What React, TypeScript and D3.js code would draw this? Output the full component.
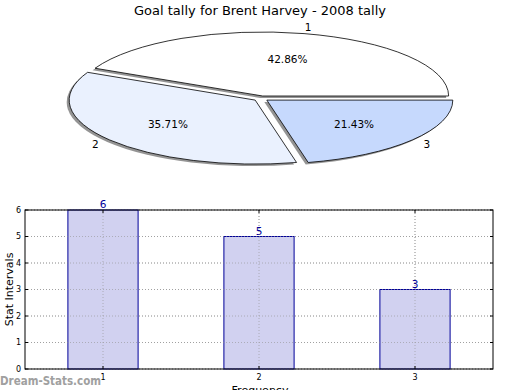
import React from "react";
import * as d3 from "d3";

const pieLabels = ["1", "2", "3"];
const pieValues = [6, 5, 3];
const pieColors = ["#ffffff", "#eaf1fe", "#c6d9fd"];

const barCategories = [1, 2, 3];
const barValues = [6, 5, 3];
const yTicks = [0, 1, 2, 3, 4, 5, 6];

const title = "Goal tally for Brent Harvey - 2008 tally";

export default function App() {
  const W = 520, H = 390;
  const font = "DejaVu Sans, sans-serif";

  // Pie geometry
  const cx = 261, cy = 98.5, rx = 186, ry = 64, explode = 0.04;
  const total = d3.sum(pieValues);
  const arcs = d3.pie<number>().sort(null).startAngle(0).endAngle(2 * Math.PI)(pieValues);
  const pt = (ox: number, oy: number, th: number, r: number) => [ox + r * rx * Math.cos(th), oy - r * ry * Math.sin(th)];

  const wedges = arcs.map((a, i) => {
    const t0 = a.startAngle, t1 = a.endAngle;
    const mid = (t0 + t1) / 2;
    const ox = cx + explode * rx * Math.cos(mid);
    const oy = cy - explode * ry * Math.sin(mid);
    const [x0, y0] = pt(ox, oy, t0, 1);
    const [x1, y1] = pt(ox, oy, t1, 1);
    const large = t1 - t0 > Math.PI ? 1 : 0;
    const d = `M${ox},${oy}L${x0},${y0}A${rx},${ry} 0 ${large} 0 ${x1},${y1}Z`;
    const [lx, ly] = pt(ox, oy, mid, 1.1);
    const [px, py] = pt(ox, oy, mid, 0.6);
    const pct = ((pieValues[i] / total) * 100).toFixed(2) + "%";
    return { d, lx, ly, px, py, pct, i, mid };
  });

  // Bar chart
  const left = 25, right = 493, top = 210, bottom = 369;
  const x = d3.scaleLinear().domain([0.5, 3.5]).range([left, right]);
  const y = d3.scaleLinear().domain([0, 6]).range([bottom, top]);
  const bw = x(0.45) - x(0);

  return (
    <svg width={W} height={H} style={{ position: "absolute", left: 0, top: 0, background: "#fff" }} fontFamily={font}>
      <rect width={W} height={H} fill="#fff" />
      <text x={260} y={15} textAnchor="middle" fontSize={13}>{title}</text>

      {wedges.map((w) => (
        <path key={"s" + w.i} d={w.d} fill="#888" opacity={0.9} transform="translate(-2.5,2)" />
      ))}
      {wedges.map((w) => (
        <path key={"w" + w.i} d={w.d} fill={pieColors[w.i]} stroke="#000" strokeWidth={0.8} />
      ))}
      {wedges.map((w) => (
        <g key={"l" + w.i} fontSize={10.5}>
          <text x={w.lx} y={w.ly} textAnchor="middle" dominantBaseline="central">{pieLabels[w.i]}</text>
          <text x={w.px} y={w.py} textAnchor="middle" dominantBaseline="central">{w.pct}</text>
        </g>
      ))}

      {yTicks.map((t) => (
        <line key={"gy" + t} x1={left} x2={right} y1={y(t)} y2={y(t)} stroke="#aaa" strokeWidth={1} strokeDasharray="1,2" />
      ))}
      {barCategories.map((c) => (
        <line key={"gx" + c} x1={x(c)} x2={x(c)} y1={top} y2={bottom} stroke="#aaa" strokeWidth={1} strokeDasharray="1,2" />
      ))}

      {barCategories.map((c, i) => (
        <g key={"b" + c}>
          <rect x={x(c) - bw / 2} y={y(barValues[i])} width={bw} height={bottom - y(barValues[i])} fill="#ccccee" fillOpacity={0.9} stroke="#000099" strokeWidth={1} />
          <text x={x(c)} y={y(barValues[i]) - 2} textAnchor="middle" fontSize={10.5} fill="#000099">{barValues[i]}</text>
        </g>
      ))}

      {yTicks.map((t) => (
        <line key={"gy2" + t} x1={left} x2={right} y1={y(t)} y2={y(t)} stroke="#999" strokeOpacity={0.6} strokeWidth={1} strokeDasharray="1,2" />
      ))}
      {barCategories.map((c) => (
        <line key={"gx2" + c} x1={x(c)} x2={x(c)} y1={top} y2={bottom} stroke="#999" strokeOpacity={0.6} strokeWidth={1} strokeDasharray="1,2" />
      ))}

      <rect x={left} y={top} width={right - left} height={bottom - top} fill="none" stroke="#000" strokeWidth={1} />

      {yTicks.map((t) => (
        <g key={"yt" + t}>
          <line x1={left} x2={left + 3} y1={y(t)} y2={y(t)} stroke="#000" />
          <line x1={right - 3} x2={right} y1={y(t)} y2={y(t)} stroke="#000" />
          <text x={left - 4} y={y(t)} textAnchor="end" dominantBaseline="central" fontSize={8}>{t}</text>
        </g>
      ))}
      {barCategories.map((c) => (
        <g key={"xt" + c}>
          <line x1={x(c)} x2={x(c)} y1={bottom} y2={bottom - 3} stroke="#000" />
          <line x1={x(c)} x2={x(c)} y1={top} y2={top + 3} stroke="#000" />
          <text x={x(c)} y={bottom + 11} textAnchor="middle" fontSize={8}>{c}</text>
        </g>
      ))}

      <text x={260} y={394} textAnchor="middle" fontSize={11}>Frequency</text>
      <text transform={`translate(13,${(top + bottom) / 2}) rotate(-90)`} textAnchor="middle" fontSize={11}>Stat Intervals</text>

      <text x={0} y={385} fontSize={12} fontWeight="bold" fill="#a0a0a0" fontFamily="DejaVu Sans Condensed, DejaVu Sans, sans-serif" textLength={101} lengthAdjust="spacingAndGlyphs">Dream-Stats.com</text>
    </svg>
  );
}
